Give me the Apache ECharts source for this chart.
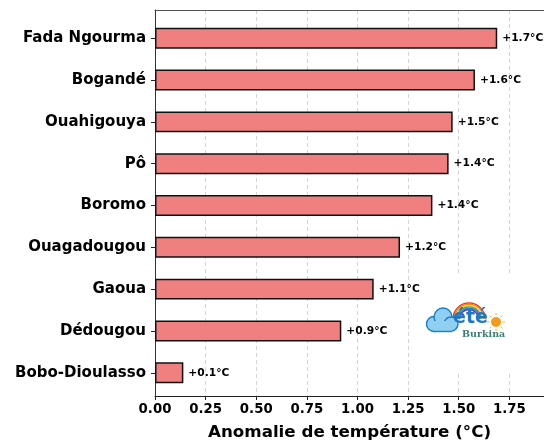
<!DOCTYPE html>
<html>
<head>
<meta charset="utf-8">
<script src="https://cdn.jsdelivr.net/npm/echarts@6/dist/echarts.min.js"></script>
<style>
html,body{margin:0;padding:0;background:#fff;}
#c{width:544px;height:446px;}
</style>
</head>
<body>
<div id="c"></div>
<script>
const categories = ['Fada Ngourma','Bogandé','Ouahigouya','Pô','Boromo','Ouagadougou','Gaoua','Dédougou','Bobo-Dioulasso'];
const values = [1.69, 1.58, 1.47, 1.45, 1.37, 1.21, 1.08, 0.92, 0.14];
const valueLabels = ['+1.7°C','+1.6°C','+1.5°C','+1.4°C','+1.4°C','+1.2°C','+1.1°C','+0.9°C','+0.1°C'];
const xMin = 0, xMax = 1.921, xStep = 0.25;
const xTitle = 'Anomalie de température (°C)';

const FONT = 'DejaVu Sans';
const chart = echarts.init(document.getElementById('c'), null, {renderer:'canvas'});

const unit = 391 / 9.35;
const gridLeft = 155, gridTop = 10, gridH = 391, gridW = 389;

const rainbowColors = ['#e53935','#fb8c00','#fdd835','#43a047','#1e88e5','#8e24aa'];
const rainbow = rainbowColors.map((c,i)=>({
  type:'arc', shape:{cx:469, cy:319, r:16-i*1.3, startAngle:Math.PI, endAngle:2*Math.PI},
  style:{stroke:c, lineWidth:1.4, fill:null}, z:101
}));
const rays = [];
for (let k=0;k<8;k++){
  const a = k*Math.PI/4;
  rays.push({type:'line', shape:{x1:496+Math.cos(a)*6.5, y1:322+Math.sin(a)*6.5, x2:496+Math.cos(a)*9, y2:322+Math.sin(a)*9},
    style:{stroke:'#f7b32b', lineWidth:1}, z:101});
}
const cloudStyle = {fill:'#8fd0f2', stroke:'#1c7cc4', lineWidth:1.4};

chart.setOption({
  animation:false,
  backgroundColor:'#fff',
  grid:[
    {left:gridLeft, top:gridTop, width:gridW, height:gridH},
    {left:gridLeft, top:gridTop + 0.175*unit, width:gridW, height:9*unit}
  ],
  xAxis:[
    {gridIndex:0, type:'value', min:xMin, max:xMax, interval:xStep,
     name:xTitle, nameLocation:'middle', nameGap:28,
     nameTextStyle:{fontFamily:FONT, fontWeight:'bold', fontSize:16.7, color:'#000'},
     axisLine:{show:true, lineStyle:{color:'#222', width:1}},
     axisTick:{show:true, length:4, lineStyle:{color:'#222'}},
     axisLabel:{fontFamily:FONT, fontWeight:'bold', fontSize:13.3, color:'#000', margin:7,
       formatter:v=>v.toFixed(2), showMaxLabel:false},
     splitLine:{show:true, lineStyle:{color:'#d4d4d4', type:[4,3], width:1}}
    },
    {gridIndex:1, type:'value', min:xMin, max:xMax, show:false, splitLine:{show:false}},
    {gridIndex:0, type:'value', position:'top', min:xMin, max:xMax,
     axisLine:{show:true, onZero:false, lineStyle:{color:'#555', width:1}},
     axisTick:{show:false}, axisLabel:{show:false}, splitLine:{show:false}}
  ],
  yAxis:[
    {gridIndex:0, type:'value', min:0, max:1, axisLabel:{show:false}, axisTick:{show:false},
     splitLine:{show:false}, axisLine:{show:true, lineStyle:{color:'#333'}}},
    {gridIndex:1, type:'category', inverse:true, data:categories,
     axisLine:{show:true, lineStyle:{color:'#333'}},
     axisTick:{show:true, alignWithLabel:true, length:4, lineStyle:{color:'#222'}},
     axisLabel:{fontFamily:FONT, fontWeight:'bold', fontSize:15, color:'#000', margin:9}
    }
  ],
  series:[{
    type:'bar', xAxisIndex:1, yAxisIndex:1, data:values, barWidth:'50%',
    itemStyle:{color:'#F08080', borderColor:'#111', borderWidth:1.5},
    label:{show:true, position:'right', distance:5, fontFamily:FONT, fontWeight:'bold', fontSize:10.7, color:'#000',
      formatter:p=>valueLabels[p.dataIndex]}
  }],
  graphic:[
    {type:'rect', shape:{x:422, y:276, width:108, height:95}, style:{fill:'#fff'}, z:100},
    ...rainbow,
    {type:'circle', shape:{cx:434, cy:324, r:7.5}, style:cloudStyle, z:101},
    {type:'circle', shape:{cx:443, cy:317, r:9}, style:cloudStyle, z:101},
    {type:'circle', shape:{cx:451, cy:324, r:7}, style:cloudStyle, z:101},
    {type:'rect', shape:{x:433, y:321, width:19, height:10.5}, style:{fill:'#8fd0f2'}, z:102},
    {type:'line', shape:{x1:433, y1:331.5, x2:452, y2:331.5}, style:{stroke:'#1c7cc4', lineWidth:1.4}, z:102},
    {type:'text', x:453, y:309, style:{text:'été', font:'bold 19px "DejaVu Sans"', fill:'#1f78c4'}, z:103},
    {type:'circle', shape:{cx:496, cy:322, r:5}, style:{fill:'#f59a1b'}, z:101},
    ...rays,
    {type:'text', x:462, y:330, style:{text:'Burkina', font:'bold 9.5px "DejaVu Serif"', fill:'#3d7f72'}, z:103}
  ]
});
</script>
</body>
</html>
